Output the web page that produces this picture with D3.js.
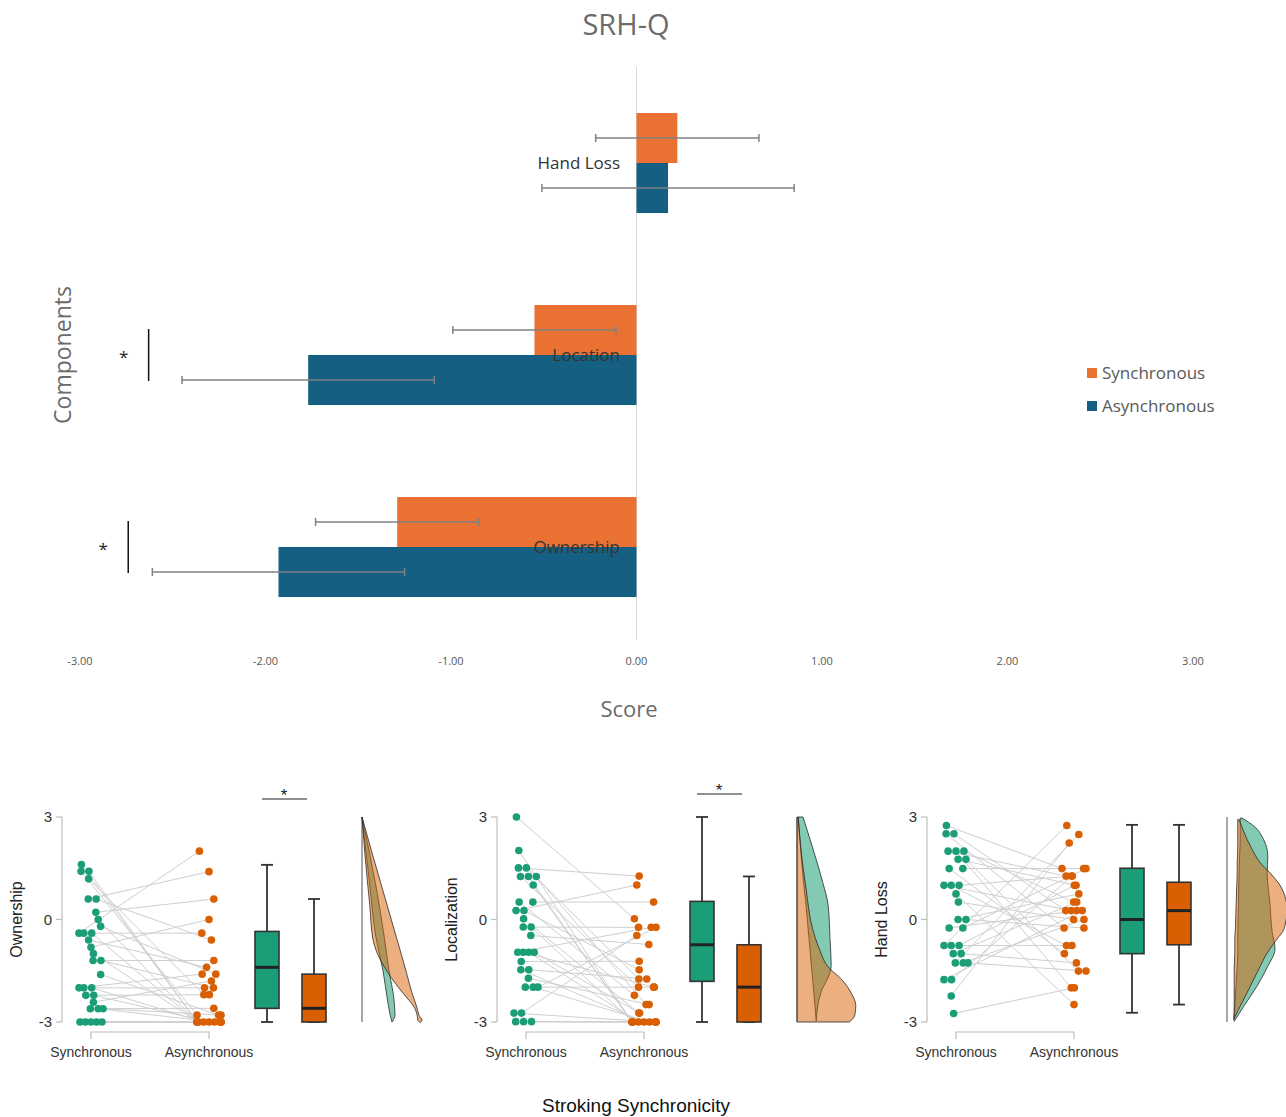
<!DOCTYPE html>
<html><head><meta charset="utf-8">
<script src="https://cdn.jsdelivr.net/npm/d3@7"></script>
<style>body{margin:0;background:#fff} svg{display:block}</style>
</head><body><svg id="c" width="1286" height="1117"></svg>
<script>
// ---------------- DATA: top chart (SRH-Q) ----------------
const categories = ["Hand Loss", "Location", "Ownership"];
const seriesNames = ["Synchronous", "Asynchronous"];
const syncMeans = [0.22, -0.55, -1.29];
const asyncMeans = [0.17, -1.77, -1.93];
const syncErr = [0.44, 0.44, 0.44];
const asyncErr = [0.68, 0.68, 0.68];
const scoreTicks = [-3, -2, -1, 0, 1, 2, 3];
const sigCategories = ["Location", "Ownership"];
const sigAt = [-2.63, -2.74];

// ---------------- DATA: bottom raincloud panels ----------------
const panelNames = ["Ownership", "Localization", "Hand Loss"];
const groupLabels = ["Synchronous", "Asynchronous"];
const panelTicks = [-3, 0, 3];

const ownershipSync = [1.61,1.41,1.41,1.19,0.6,0.6,0.21,0.0,-0.2,-0.4,-0.4,-0.4,-0.6,-0.81,-1.0,-1.2,-1.2,-1.61,-2.0,-2.0,-2.0,-2.22,-2.22,-2.42,-2.61,-2.61,-2.61,-3,-3,-3,-3,-3];
const ownershipAsync = [-3,-2.8,-3,-2.2,1.4,-0.6,0.6,-3,-1.6,2.0,-0.4,-3,-1.4,0,-3,-1.2,-2.0,-2.8,-1.6,-2.0,-3,-2.2,-3,-1.8,-2.6,-3,-2.8,-3,-3,-3,-3,-3];

const localizationSync = [3.0,2.02,1.51,1.51,1.26,1.26,1.26,1.01,0.51,0.51,0.26,0.26,0.02,-0.22,-0.22,-0.47,-0.96,-0.96,-0.96,-0.96,-1.23,-1.47,-1.47,-1.72,-1.98,-1.98,-1.98,-2.74,-2.74,-2.99,-2.99,-2.99];
const localizationAsync = [0.02,-3,1.27,-1.74,-1.98,-3,-2.49,-3,0.51,-2.22,1.01,-1.47,-2.74,-0.23,-3,-0.73,-0.23,-1.98,-3,-2.74,-1.22,-3,-1.74,-2.49,-1.98,-3,-0.23,-3,-0.47,-3,-3,-3];

const handLossSync = [2.75,2.51,2.51,2.0,2.0,2.0,1.76,1.76,1.49,1.49,1.0,1.0,1.0,0.75,0.51,0,0,-0.25,-0.25,-0.76,-0.76,-0.76,-1.0,-1.0,-1.27,-1.27,-1.27,-1.76,-1.76,-2.24,-2.75];
const handLossAsync = [1.49,-0.25,0.26,1.27,-2.0,0.51,1.0,-1.51,1.49,-1.0,0.26,-0.76,1.27,-2.49,0,0.75,-0.25,1.49,0.26,2.75,-0.76,1.0,0.51,-1.27,2.49,0,-1.51,0.26,1.27,2.24,-2.0];

// box stats: [min, q1, median, q3, max]
const ownershipBoxSync = [-3, -2.6, -1.4, -0.35, 1.6];
const ownershipBoxAsync = [-3, -3, -2.6, -1.6, 0.6];
const localizationBoxSync = [-3, -1.81, -0.74, 0.53, 3];
const localizationBoxAsync = [-3, -3, -1.98, -0.74, 1.26];
const handLossBoxSync = [-2.73, -1.0, 0, 1.5, 2.77];
const handLossBoxAsync = [-2.49, -0.74, 0.26, 1.09, 2.77];

// density outlines: [value, inner edge, outer edge] (density units)
const ownershipDensSync = [[3,0,0],[1.0,0.13,0.23],[-0.5,0.23,0.37],[-1.5,0.35,0.45],[-2.3,0.42,0.53],[-2.8,0.47,0.55],[-3.0,0.5,0.5]];
const ownershipDensAsync = [[3,0,0],[1.87,0.05,0.18],[0.41,0.13,0.42],[-0.56,0.18,0.58],[-1.05,0.27,0.66],[-1.55,0.43,0.74],[-2.13,0.67,0.83],[-2.6,0.88,0.92],[-2.8,0.92,0.95],[-2.95,0.93,1.0],[-3.02,0.97,0.97]];
const localizationDensSync = [[3,0.02,0.1],[1.87,0.07,0.3],[1.08,0.11,0.43],[0.41,0.15,0.52],[-0.56,0.2,0.55],[-1.35,0.24,0.57],[-1.55,0.25,0.55],[-2.13,0.28,0.4],[-2.97,0.32,0.32]];
const localizationDensAsync = [[3,0,0.02],[1.97,0,0.07],[0.91,0,0.15],[-0.27,0,0.26],[-0.85,0,0.37],[-1.43,0,0.54],[-1.73,0,0.73],[-2.14,0,0.9],[-2.52,0,0.98],[-2.82,0,0.96],[-3,0,0.87]];
const handLossDensSync = [[2.97,0.22,0.25],[2.73,0.22,0.45],[2.34,0.22,0.61],[1.86,0.21,0.68],[1.36,0.2,0.67],[0.39,0.19,0.72],[-0.34,0.18,0.75],[-0.87,0.18,0.8],[-1.37,0.17,0.68],[-1.95,0.15,0.5],[-2.54,0.13,0.28],[-2.98,0.12,0.12]];
const handLossDensAsync = [[2.93,0.18,0.2],[2.15,0.18,0.39],[1.65,0.17,0.56],[1.36,0.17,0.72],[0.89,0.16,0.92],[0.3,0.15,1.0],[-0.28,0.14,0.95],[-0.58,0.13,0.83],[-0.98,0.13,0.67],[-1.45,0.12,0.53],[-1.95,0.12,0.39],[-2.54,0.12,0.22],[-2.92,0.11,0.11]];
const panelSignificant = [true, true, false];

// ---------------- DRAW ----------------
const svg = d3.select("#c");
const topFont = "'Open Sans', 'Noto Sans', sans-serif";
const botFont = "'Liberation Sans', Arial, sans-serif";
const seriesColor = {Synchronous: "#E97132", Asynchronous: "#156082"};

svg.append("text").attr("x", 626).attr("y", 35).attr("text-anchor", "middle")
  .style("font-family", topFont).style("font-size", "29px").attr("fill", "#6b6b6b").text("SRH-Q");

const x = d3.scaleLinear().domain([-3, 3]).range([80, 1193]);
const y = d3.scaleBand().domain(categories).range([67, 643]);
const sub = d3.scaleBand().domain(seriesNames).range([-50, 50]);

svg.append("line").attr("x1", x(0)).attr("x2", x(0)).attr("y1", 67).attr("y2", 640)
  .attr("stroke", "#d9d9d9").attr("stroke-width", 1);

const barData = [];
categories.forEach((c, i) => {
  barData.push({cat: c, s: "Synchronous", v: syncMeans[i], e: syncErr[i]});
  barData.push({cat: c, s: "Asynchronous", v: asyncMeans[i], e: asyncErr[i]});
});
const cy = d => y(d.cat) + y.bandwidth() / 2 + sub(d.s);
svg.append("g").selectAll("rect").data(barData).join("rect")
  .attr("x", d => Math.min(x(0), x(d.v))).attr("width", d => Math.abs(x(d.v) - x(0)))
  .attr("y", cy).attr("height", sub.bandwidth())
  .attr("fill", d => seriesColor[d.s]);

svg.append("g").selectAll("text").data(categories).join("text")
  .attr("x", 620).attr("y", d => y(d) + y.bandwidth() / 2).attr("dy", "0.35em")
  .attr("text-anchor", "end").style("font-family", topFont).style("font-size", "17px")
  .attr("fill", "#333").text(d => d);

const eb = svg.append("g").attr("stroke", "#808080").attr("stroke-width", 1.5);
barData.forEach(d => {
  const yc = cy(d) + sub.bandwidth() / 2;
  eb.append("line").attr("x1", x(d.v - d.e)).attr("x2", x(d.v + d.e)).attr("y1", yc).attr("y2", yc);
  [d.v - d.e, d.v + d.e].forEach(v => eb.append("line").attr("x1", x(v)).attr("x2", x(v)).attr("y1", yc - 4).attr("y2", yc + 4));
});

sigCategories.forEach((c, i) => {
  const yc = y(c) + y.bandwidth() / 2;
  svg.append("line").attr("x1", x(sigAt[i])).attr("x2", x(sigAt[i])).attr("y1", yc - 26).attr("y2", yc + 26)
    .attr("stroke", "#111").attr("stroke-width", 1.5);
  svg.append("text").attr("x", x(sigAt[i]) - 25).attr("y", yc + 8).attr("text-anchor", "middle")
    .style("font-family", topFont).style("font-size", "17px").attr("fill", "#222").text("*");
});

svg.append("g").selectAll("text").data(scoreTicks).join("text")
  .attr("x", d => x(d)).attr("y", 661).attr("dy", "0.35em").attr("text-anchor", "middle")
  .style("font-family", topFont).style("font-size", "11px").attr("fill", "#595959")
  .text(d => d.toFixed(2));

svg.append("text").attr("x", 629).attr("y", 717).attr("text-anchor", "middle")
  .style("font-family", topFont).style("font-size", "22px").attr("fill", "#6b6b6b").text("Score");
svg.append("text").attr("transform", "translate(71,355) rotate(-90)").attr("text-anchor", "middle")
  .style("font-family", topFont).style("font-size", "23px").attr("fill", "#6b6b6b").text("Components");

seriesNames.forEach((s, i) => {
  const ly = 373 + i * 33;
  svg.append("rect").attr("x", 1087).attr("y", ly - 5).attr("width", 10).attr("height", 10).attr("fill", seriesColor[s]);
  svg.append("text").attr("x", 1102).attr("y", ly).attr("dy", "0.35em")
    .style("font-family", topFont).style("font-size", "17px").attr("fill", "#595959").text(s);
});

// ---------------- bottom panels ----------------
const panels = [
  {name: panelNames[0], s: ownershipSync, a: ownershipAsync, bs: ownershipBoxSync, ba: ownershipBoxAsync, ds: ownershipDensSync, da: ownershipDensAsync, sig: panelSignificant[0], sigY: 799},
  {name: panelNames[1], s: localizationSync, a: localizationAsync, bs: localizationBoxSync, ba: localizationBoxAsync, ds: localizationDensSync, da: localizationDensAsync, sig: panelSignificant[1], sigY: 794},
  {name: panelNames[2], s: handLossSync, a: handLossAsync, bs: handLossBoxSync, ba: handLossBoxAsync, ds: handLossDensSync, da: handLossDensAsync, sig: panelSignificant[2], sigY: 794}
];
const origins = [62, 497, 927];
const yb = d3.scaleLinear().domain([-3, 3]).range([1022, 817]);
const dens = d3.scaleLinear().domain([0, 1]).range([0, 60]);
const green = "#1B9E77", orange = "#D95F02";

function jitter(vals) {
  const counts = {}, seen = {};
  vals.forEach(v => counts[v] = (counts[v] || 0) + 1);
  return vals.map((v, i) => {
    const n = counts[v]; const k = seen[v] = (seen[v] === undefined ? 0 : seen[v] + 1);
    const base = (((i * 37) % 9) - 4) * 2.4;
    let off = (k - (n - 1) / 2) * 5.5 + (n > 3 ? 0 : base);
    return Math.max(-12, Math.min(12, off));
  });
}

panels.forEach((p, pi) => {
  const A = origins[pi];
  const g = svg.append("g");
  const xs = A + 29, xa = A + 147;
  g.append("line").attr("x1", A).attr("x2", A).attr("y1", yb(3)).attr("y2", yb(-3)).attr("stroke", "#bdbdbd").attr("stroke-width", 1.2);
  panelTicks.forEach(t => {
    g.append("line").attr("x1", A - 6).attr("x2", A).attr("y1", yb(t)).attr("y2", yb(t)).attr("stroke", "#bdbdbd").attr("stroke-width", 1.2);
    g.append("text").attr("x", A - 10).attr("y", yb(t)).attr("dy", "0.35em").attr("text-anchor", "end")
      .style("font-family", botFont).style("font-size", "15px").attr("fill", "#333").text(t);
  });
  g.append("text").attr("transform", `translate(${A - 40},${yb(0)}) rotate(-90)`).attr("text-anchor", "middle")
    .style("font-family", botFont).style("font-size", "16px").attr("fill", "#222").text(p.name);
  g.append("path").attr("d", `M${xs},1039V1032H${xa}V1039`).attr("fill", "none").attr("stroke", "#bdbdbd").attr("stroke-width", 1.2);
  [xs, xa].forEach((xx, k) => g.append("text").attr("x", xx).attr("y", 1057).attr("text-anchor", "middle")
    .style("font-family", botFont).style("font-size", "14px").attr("fill", "#333").text(groupLabels[k]));
  const js = jitter(p.s), ja = jitter(p.a);
  p.s.forEach((v, i) => {
    g.append("line").attr("x1", xs + js[i]).attr("y1", yb(v)).attr("x2", xa + ja[i]).attr("y2", yb(p.a[i]))
      .attr("stroke", "#cfcfcf").attr("stroke-width", 1);
  });
  p.s.forEach((v, i) => g.append("circle").attr("cx", xs + js[i]).attr("cy", yb(v)).attr("r", 3.8).attr("fill", green));
  p.a.forEach((v, i) => g.append("circle").attr("cx", xa + ja[i]).attr("cy", yb(v)).attr("r", 3.8).attr("fill", orange));
  [[p.bs, A + 205, green], [p.ba, A + 252, orange]].forEach(([b, cx, col]) => {
    const w = 24;
    g.append("line").attr("x1", cx).attr("x2", cx).attr("y1", yb(b[4])).attr("y2", yb(b[0])).attr("stroke", "#333").attr("stroke-width", 1.8);
    [b[0], b[4]].forEach(v => g.append("line").attr("x1", cx - 6).attr("x2", cx + 6).attr("y1", yb(v)).attr("y2", yb(v)).attr("stroke", "#333").attr("stroke-width", 1.8));
    g.append("rect").attr("x", cx - w / 2).attr("width", w).attr("y", yb(b[3])).attr("height", Math.max(0, yb(b[1]) - yb(b[3])))
      .attr("fill", col).attr("stroke", "#333").attr("stroke-width", 1.6);
    g.append("line").attr("x1", cx - w / 2).attr("x2", cx + w / 2).attr("y1", yb(b[2])).attr("y2", yb(b[2])).attr("stroke", "#222").attr("stroke-width", 3);
  });
  const B = A + 300;
  g.append("line").attr("x1", B).attr("x2", B).attr("y1", yb(3)).attr("y2", yb(-3)).attr("stroke", "#8a8a8a").attr("stroke-width", 1.5);
  const area = d3.area().y(d => yb(d[0])).x0(d => B + dens(d[1])).x1(d => B + dens(d[2])).curve(d3.curveMonotoneY);
  g.append("path").attr("d", area(p.ds)).attr("fill", "rgba(27,158,119,0.55)").attr("stroke", "#2b2b2b").attr("stroke-opacity", 0.8).attr("stroke-width", 1);
  g.append("path").attr("d", area(p.da)).attr("fill", "rgba(217,95,2,0.5)").attr("stroke", "#2b2b2b").attr("stroke-opacity", 0.8).attr("stroke-width", 1);
  if (p.sig) {
    g.append("line").attr("x1", A + 200).attr("x2", A + 245).attr("y1", p.sigY).attr("y2", p.sigY).attr("stroke", "#222").attr("stroke-width", 1.2);
    g.append("text").attr("x", A + 222).attr("y", p.sigY + 2).attr("text-anchor", "middle")
      .style("font-family", botFont).style("font-size", "17px").attr("fill", "#222").text("*");
  }
});

svg.append("text").attr("x", 636).attr("y", 1112).attr("text-anchor", "middle")
  .style("font-family", botFont).style("font-size", "19px").attr("fill", "#111").text("Stroking Synchronicity");
</script></body></html>
